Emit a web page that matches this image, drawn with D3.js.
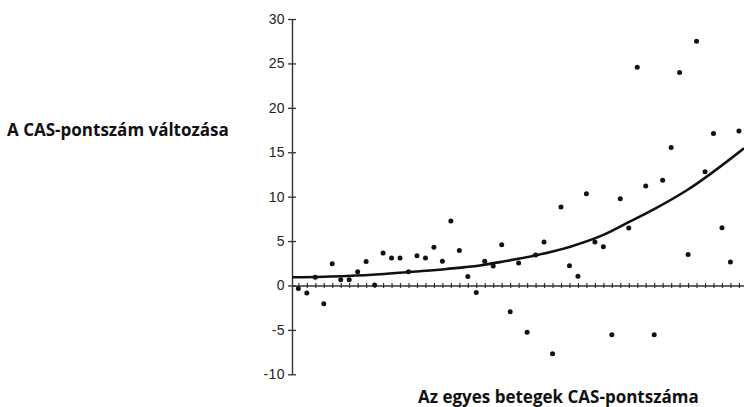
<!DOCTYPE html>
<html>
<head>
<meta charset="utf-8">
<script src="https://cdn.jsdelivr.net/npm/d3@7"></script>
<style>
  body { margin: 0; background: #fff; }
  .tick text { font-family: "Liberation Sans", Arial, sans-serif; font-size: 14px; letter-spacing: 0.4px; fill: #222; }
  .label { font-family: "Open Sans", sans-serif; font-weight: 700; font-size: 17px; fill: #111; }
</style>
</head>
<body>
<div id="chart"></div>
<script>
var width = 744,
    height = 407;

// patient index (1..53) -> change of CAS score
var patients = [1,2,3,4,5,6,7,8,9,10,11,12,13,14,15,16,17,18,19,20,21,22,23,24,25,26,27,
    28,29,30,31,32,33,34,35,36,37,38,39,40,41,42,43,44,45,46,47,48,49,50,51,52,53];
var casChange = [-0.34,-0.86,0.94,-2.07,2.44,0.64,0.64,1.54,2.7,0.04,3.65,3.08,3.08,1.54,
    3.35,3.08,4.29,2.74,7.26,3.95,1.02,-0.79,2.74,2.18,4.59,-2.95,2.52,-5.26,3.42,4.89,
    -7.7,8.83,2.22,1.05,10.34,4.89,4.36,-5.56,9.77,6.47,24.57,11.2,-5.56,11.85,15.52,
    23.97,3.5,27.5,12.8,17.1,6.5,2.63,17.4];

// trend curve
var trendX = [0.25, 6.75, 10.6, 14.5, 18.5, 22.4, 25.2, 29.2, 33.1, 37, 40.1, 43, 46.9, 53.6];
var trendY = [0.92, 1.07, 1.26, 1.55, 1.86, 2.25, 2.7, 3.43, 4.37, 5.69, 7.18, 8.6, 10.75, 15.45];

var yTicks = [-10, -5, 0, 5, 10, 15, 20, 25, 30];

var svg = d3.select('div#chart').append('svg')
    .attr('width', width)
    .attr('height', height);

var xScale = d3.scaleLinear().domain([0.25, 53.6]).range([292, 744]);
var yScale = d3.scaleLinear().domain([-10, 30]).range([374.3, 19]);

// y axis, ticks crossing the line
var yAxis = d3.axisLeft(yScale).tickValues(yTicks).tickSizeInner(4).tickSizeOuter(0)
    .tickPadding(3).tickFormat(function (d) { return String(d); });
var gy = svg.append('g').attr('transform', 'translate(292,0)').call(yAxis);
gy.select('.domain').attr('stroke', '#333').attr('stroke-width', 1.4);
gy.selectAll('.tick line').attr('x1', 4).attr('stroke', '#333').attr('stroke-width', 1.3);

// zero line with a tick per patient
var xAxis = d3.axisBottom(xScale).tickValues(patients).tickSizeInner(2.5).tickSizeOuter(0)
    .tickFormat('');
var gx = svg.append('g').attr('transform', 'translate(0,' + yScale(0) + ')').call(xAxis);
gx.select('.domain').attr('stroke', '#333').attr('stroke-width', 1.4);
gx.selectAll('.tick line').attr('y1', -2.5).attr('stroke', '#333').attr('stroke-width', 1.2);

// trend line
var line = d3.line()
    .x(function (d, i) { return xScale(d); })
    .y(function (d, i) { return yScale(trendY[i]); })
    .curve(d3.curveMonotoneX);
svg.append('path').datum(trendX)
    .attr('d', line)
    .attr('fill', 'none')
    .attr('stroke', '#111')
    .attr('stroke-width', 2.6);

// points
svg.append('g').selectAll('circle').data(casChange).enter().append('circle')
    .attr('cx', function (d, i) { return xScale(patients[i]); })
    .attr('cy', function (d) { return yScale(d); })
    .attr('r', 2.5)
    .attr('fill', '#111');

// axis titles
svg.append('text').attr('class', 'label').attr('x', 7).attr('y', 136)
    .text('A CAS-pontszám változása');
svg.append('text').attr('class', 'label').attr('x', 418).attr('y', 403)
    .text('Az egyes betegek CAS-pontszáma');
</script>
</body>
</html>
